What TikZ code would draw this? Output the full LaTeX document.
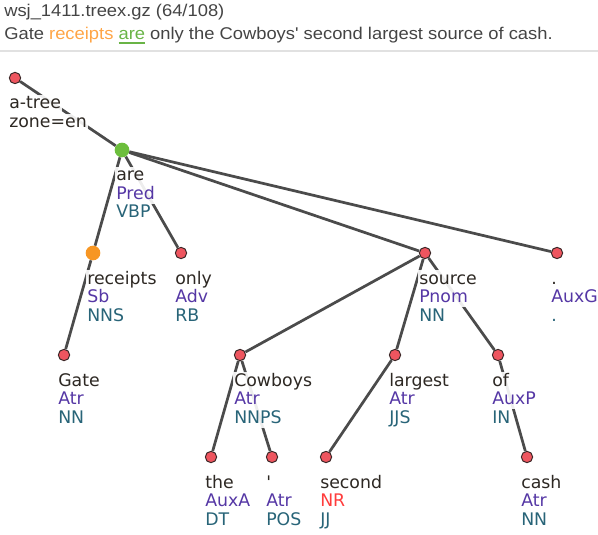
\documentclass[tikz,border=0pt]{standalone}
\font\lblf="DejaVu Sans" at 13pt
\font\hdrf="Liberation Sans:extend=1.08" at 12.75pt
\definecolor{edgec}{RGB}{75,75,75}
\definecolor{nodered}{RGB}{238,85,95}
\definecolor{nodeline}{RGB}{60,40,40}
\definecolor{nodegreen}{RGB}{108,190,60}
\definecolor{nodeorange}{RGB}{247,150,35}
\definecolor{wordc}{RGB}{45,40,35}
\definecolor{fnc}{RGB}{85,55,165}
\definecolor{tagc}{RGB}{40,100,120}
\definecolor{nrc}{RGB}{255,60,60}
\definecolor{hdrc}{RGB}{68,68,68}
\definecolor{hrec}{RGB}{255,165,70}
\definecolor{hare}{RGB}{105,180,70}
\definecolor{sepc}{RGB}{225,225,225}
\newcommand\hul[1]{\setbox0\hbox{#1}\makebox[0pt][l]{\rule[-2.8pt]{\wd0}{1.1pt}}\box0}
\newcommand\tlab[5][fnc]{%
  \node[lbl,text=wordc] (#2-w) at ([shift={(-7,31)}]#2.center) {#3};
  \node[lbl,text=#1] (#2-f) at ([shift={(-7,49.5)}]#2.center) {#4};
  \node[lbl,text=tagc] (#2-t) at ([shift={(-7,68)}]#2.center) {#5};}
\begin{document}
\begin{tikzpicture}[x=0.75pt,y=-0.75pt,
  rnode/.style={circle,draw=nodeline,line width=0.75pt,fill=nodered,minimum size=8.5pt,inner sep=0pt},
  gnode/.style={circle,fill=nodegreen,minimum size=11pt,inner sep=0pt},
  onode/.style={circle,fill=nodeorange,minimum size=11pt,inner sep=0pt},
  edge/.style={draw=edgec,line width=2.05pt},
  lbl/.style={anchor=base west,font=\lblf,inner xsep=0.75pt,inner ysep=0.9pt,
    text height=9.5pt,text depth=2.8pt,fill=white,fill opacity=0.9,text opacity=1},
  hdr/.style={anchor=base west,inner sep=0pt,font=\hdrf,text=hdrc}]
\useasboundingbox (0,0) rectangle (598,534);
% header
\node[hdr] (file) at (4,17) {wsj\char95 1411.treex.gz (64/108)};
\node[hdr] (sent) at (4,40) {Gate {\color{hrec}receipts} {\color{hare}\hul{are}} only the Cowboys' second largest source of cash.};
\fill[sepc] (0,50) rectangle (598,52.5);
% tree nodes
\node[rnode] (root) at (15,78) {};
\node[gnode] (are) at (122,150) {};
\node[onode] (receipts) at (93,253) {};
\node[rnode] (only) at (181,253) {};
\node[rnode] (source) at (425,253) {};
\node[rnode] (period) at (557,253) {};
\node[rnode] (gate) at (64,355) {};
\node[rnode] (cowboys) at (240,355) {};
\node[rnode] (largest) at (395,355) {};
\node[rnode] (of) at (498,355) {};
\node[rnode] (the) at (211,457) {};
\node[rnode] (pos) at (272,457) {};
\node[rnode] (second) at (326,457) {};
\node[rnode] (cash) at (527,457) {};
% edges
\draw[edge] (root) -- (are);
\draw[edge] (are) -- (receipts);
\draw[edge] (are) -- (only);
\draw[edge] (are) -- (source);
\draw[edge] (are) -- (period);
\draw[edge] (receipts) -- (gate);
\draw[edge] (source) -- (cowboys);
\draw[edge] (source) -- (largest);
\draw[edge] (source) -- (of);
\draw[edge] (cowboys) -- (the);
\draw[edge] (cowboys) -- (pos);
\draw[edge] (largest) -- (second);
\draw[edge] (of) -- (cash);
% labels
\node[lbl,text=wordc] (root-w) at ([shift={(-7,31)}]root.center) {a-tree};
\node[lbl,text=wordc] (root-z) at ([shift={(-7,49.5)}]root.center) {zone=en};
\tlab{are}{are}{Pred}{VBP}
\tlab{receipts}{receipts}{Sb}{NNS}
\tlab{only}{only}{Adv}{RB}
\tlab{source}{source}{Pnom}{NN}
\tlab{period}{.}{AuxG}{.}
\tlab{gate}{Gate}{Atr}{NN}
\tlab{cowboys}{Cowboys}{Atr}{NNPS}
\tlab{largest}{largest}{Atr}{JJS}
\tlab{of}{of}{AuxP}{IN}
\tlab{the}{the}{AuxA}{DT}
\tlab{pos}{'}{Atr}{POS}
\tlab[nrc]{second}{second}{NR}{JJ}
\tlab{cash}{cash}{Atr}{NN}
\end{tikzpicture}
\end{document}
